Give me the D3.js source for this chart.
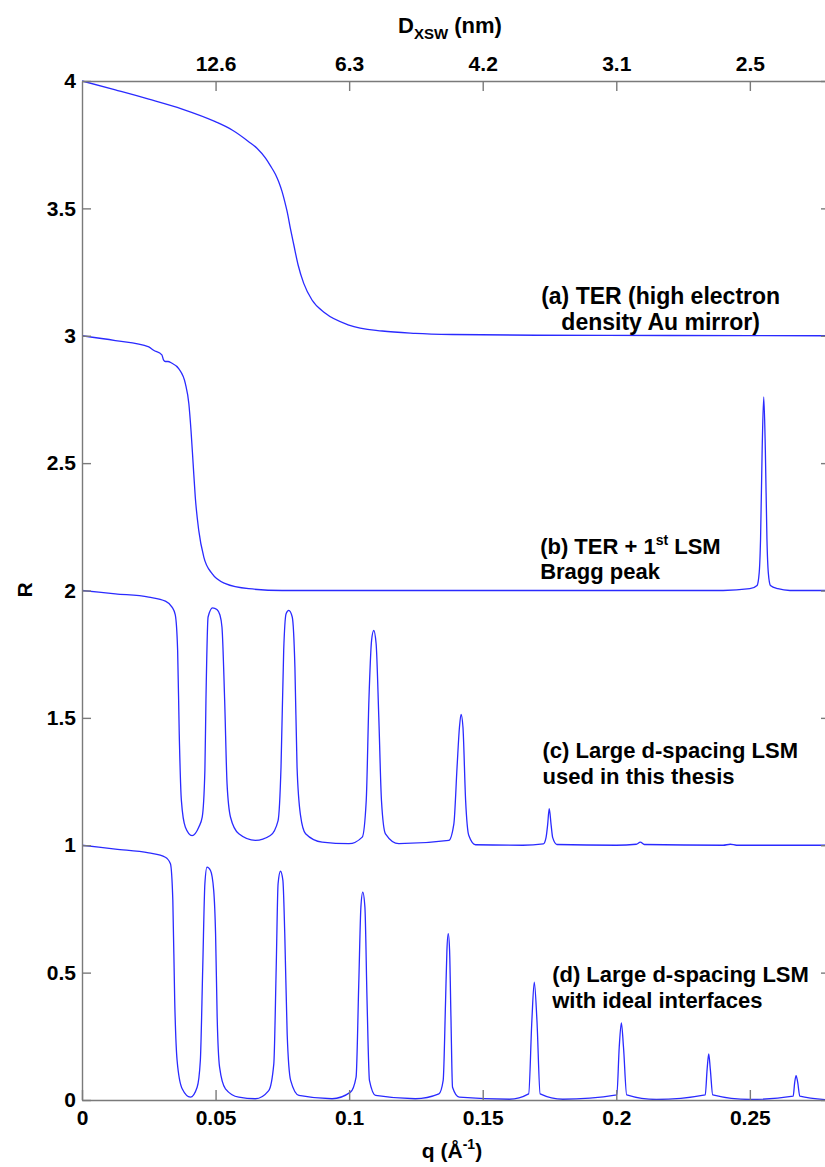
<!DOCTYPE html>
<html>
<head>
<meta charset="utf-8">
<script src="https://cdn.jsdelivr.net/npm/d3@7"></script>
<style>
  html, body { margin: 0; padding: 0; background: #fff; }
  svg { display: block; }
  text { font-family: "Liberation Sans", Arial, Helvetica, sans-serif; font-weight: bold; fill: #000; }
</style>
</head>
<body>
<svg id="chart" width="825" height="1167"></svg>
<script>
// Reflectivity curves R(q), each offset vertically by one unit
const curveA = [ // (a) TER, high electron density Au mirror (offset +3)
  [0,4.0],[0.0125,3.965],[0.025,3.929],[0.0375,3.89],[0.0499,3.8405],[0.0562,3.8077],
  [0.0624,3.7619],[0.0655,3.7358],[0.0687,3.6968],[0.0705,3.6677],[0.0724,3.6337],
  [0.0737,3.6023],[0.0749,3.5656],[0.0759,3.5264],[0.0768,3.4871],[0.078,3.4217],
  [0.0793,3.3562],[0.0809,3.2777],[0.083,3.2057],[0.0861,3.1403],[0.0911,3.0879],
  [0.0999,3.0421],[0.1124,3.0186],[0.1248,3.0094],[0.1386,3.005],[0.17,3.002],[0.22,3.001],[0.28,3.0]
];
const curveB = [ // (b) TER + 1st LSM Bragg peak (offset +2)
  [0,3.0],[0.0125,2.981],[0.025,2.956],[0.0268,2.943],[0.0299,2.925],[0.0305,2.905],
  [0.0312,2.899],[0.0322,2.899],[0.0335,2.893],[0.0362,2.871],[0.0387,2.812],[0.04,2.733],
  [0.0408,2.629],[0.0416,2.498],[0.0424,2.367],[0.0437,2.236],[0.0456,2.131],[0.0487,2.066],
  [0.0537,2.027],[0.0624,2.007],[0.0749,2.0],[0.15,2.0],[0.24,2.0],[0.25,2.007],
  [0.2527,2.02],[0.2535,2.07],[0.254,2.2],[0.2546,2.55],[0.2552,2.76],[0.2558,2.55],
  [0.2564,2.2],[0.2569,2.07],[0.2577,2.02],[0.2605,2.007],[0.265,2.0],[0.28,2.0]
];
const curveC = [ // (c) large d-spacing LSM (offset +1)
  [0,2.0],[0.0125,1.987],[0.025,1.974],[0.0312,1.958],[0.0337,1.935],[0.0349,1.905],
  [0.0358,1.765],[0.0364,1.438],[0.0372,1.176],[0.0387,1.071],[0.0412,1.038],[0.0437,1.071],
  [0.045,1.11],[0.046,1.294],[0.0464,1.569],[0.0472,1.896],[0.0489,1.932],[0.0505,1.925],
  [0.0516,1.905],[0.0524,1.856],[0.0534,1.569],[0.0543,1.241],[0.0556,1.11],[0.0587,1.045],
  [0.0649,1.019],[0.0705,1.038],[0.0734,1.097],[0.0745,1.307],[0.0755,1.765],[0.0764,1.909],
  [0.0774,1.922],[0.0787,1.896],[0.0797,1.699],[0.0805,1.307],[0.0818,1.117],[0.0837,1.045],
  [0.0899,1.012],[0.0999,1.006],[0.1049,1.032],[0.1064,1.176],[0.1074,1.569],[0.1084,1.804],
  [0.1092,1.843],[0.1101,1.791],[0.1111,1.503],[0.1121,1.176],[0.1136,1.045],[0.1186,1.006],
  [0.1373,1.019],[0.1392,1.084],[0.1404,1.307],[0.1413,1.464],[0.1419,1.514],[0.1426,1.464],
  [0.1436,1.176],[0.1448,1.038],[0.1473,1.002],[0.165,1.0],[0.1727,1.005],[0.1737,1.03],
  [0.1743,1.08],[0.1749,1.144],[0.1756,1.08],[0.1762,1.03],[0.1778,1.003],[0.2,1.0],
  [0.2075,1.004],[0.209,1.012],[0.2105,1.003],[0.24,1.0],[0.2427,1.004],[0.245,1.0],[0.28,1.0]
];
const curveD = [ // (d) large d-spacing LSM with ideal interfaces
  [0,1.0],[0.0125,0.985],[0.025,0.97],[0.0312,0.953],[0.0331,0.927],[0.034,0.783],
  [0.0347,0.391],[0.0356,0.155],[0.0375,0.044],[0.0406,0.011],[0.0431,0.05],[0.0443,0.155],
  [0.0452,0.521],[0.046,0.849],[0.0468,0.914],[0.0481,0.901],[0.0493,0.823],[0.05,0.653],
  [0.0506,0.325],[0.0515,0.129],[0.0537,0.044],[0.0587,0.011],[0.0649,0.005],[0.0699,0.037],
  [0.0718,0.142],[0.0727,0.521],[0.0734,0.849],[0.0743,0.898],[0.0752,0.862],[0.0759,0.653],
  [0.0768,0.26],[0.0781,0.077],[0.0812,0.018],[0.0936,0.005],[0.1005,0.031],[0.1026,0.09],
  [0.1036,0.456],[0.1044,0.757],[0.1051,0.816],[0.1059,0.757],[0.1067,0.391],[0.1076,0.077],
  [0.1099,0.018],[0.1248,0.005],[0.1336,0.024],[0.1352,0.077],[0.1361,0.391],[0.1366,0.587],
  [0.1371,0.653],[0.1376,0.587],[0.1381,0.33],[0.1387,0.05],[0.1412,0.011],[0.16,0.003],
  [0.1672,0.024],[0.1684,0.312],[0.1693,0.463],[0.1703,0.312],[0.1715,0.024],[0.18,0.003],
  [0.2002,0.02],[0.2011,0.207],[0.2019,0.303],[0.2027,0.207],[0.2039,0.02],[0.215,0.002],
  [0.2333,0.02],[0.234,0.12],[0.2346,0.181],[0.2352,0.12],[0.2361,0.02],[0.25,0.002],
  [0.2662,0.015],[0.2668,0.07],[0.2673,0.096],[0.2679,0.07],[0.2687,0.015],[0.28,0.0]
];
const curves = [curveA, curveB, curveC, curveD];

// Axis ticks and labels
const xTicks = [0, 0.05, 0.1, 0.15, 0.2, 0.25];
const xTickLabels = ["0", "0.05", "0.1", "0.15", "0.2", "0.25"];
const yTicks = [0, 0.5, 1, 1.5, 2, 2.5, 3, 3.5, 4];
const yTickLabels = ["0", "0.5", "1", "1.5", "2", "2.5", "3", "3.5", "4"];
const topTicks = [0.05, 0.1, 0.15, 0.2, 0.25];
const topTickLabels = ["12.6", "6.3", "4.2", "3.1", "2.5"]; // D_XSW = 2π/q, in nm

// Curve annotations: anchor (q, R) of the first line's baseline, alignment, lines
const annotations = [
  { q: 0.2166, r: 3.123, anchor: "middle", size: 23, lines: [["(a) TER (high electron"], ["density Au mirror)"]] },
  { q: 0.1715, r: 2.145, anchor: "start", size: 22, lines: [["(b) TER + 1", "st", " LSM"], ["Bragg peak"]] },
  { q: 0.1724, r: 1.342, anchor: "start", size: 22, lines: [["(c) Large d-spacing LSM"], ["used in this thesis"]] },
  { q: 0.176,  r: 0.463, anchor: "start", size: 22, lines: [["(d) Large d-spacing LSM"], ["with ideal interfaces"]] }
];

const svg = d3.select("#chart");
const mLeft = 82, mRight = 830, mTop = 81, mBottom = 1100;

const x = d3.scaleLinear().domain([0, 0.28]).range([mLeft, mRight]);
const y = d3.scaleLinear().domain([0, 4]).range([mBottom, mTop]);

svg.append("rect").attr("width", 825).attr("height", 1167).attr("fill", "#fff");

svg.append("defs").append("clipPath").attr("id", "plotClip")
  .append("rect").attr("x", mLeft).attr("y", mTop - 1)
  .attr("width", mRight - mLeft).attr("height", mBottom - mTop + 2);

// Curves
const line = d3.line().x(d => x(d[0])).y(d => y(d[1])).curve(d3.curveMonotoneX);
svg.append("g").attr("clip-path", "url(#plotClip)")
  .selectAll("path").data(curves).join("path")
  .attr("d", line)
  .attr("fill", "none")
  .attr("stroke", "#2a2aff")
  .attr("stroke-width", 1.3)
  .attr("stroke-linejoin", "round");

// Axes (ticks point inward)
const axisColor = "#7a7a7a";
const fontSize = 21;

function styleAxis(g) {
  g.select(".domain").attr("stroke", axisColor).attr("stroke-width", 1.4);
  g.selectAll(".tick line").attr("stroke", axisColor).attr("stroke-width", 1.4);
  g.selectAll(".tick text").attr("font-size", fontSize).attr("fill", "#000")
    .style("font-family", '"Liberation Sans", Arial, sans-serif').style("font-weight", "bold");
}

svg.append("g").attr("transform", `translate(0,${mBottom})`)
  .call(d3.axisBottom(x).tickValues(xTicks).tickFormat((d, i) => xTickLabels[i])
    .tickSizeInner(-10).tickSizeOuter(0).tickPadding(10))
  .call(styleAxis);

svg.append("g").attr("transform", `translate(0,${mTop})`)
  .call(d3.axisTop(x).tickValues(topTicks).tickFormat((d, i) => topTickLabels[i])
    .tickSizeInner(-10).tickSizeOuter(0).tickPadding(10))
  .call(styleAxis);

svg.append("g").attr("transform", `translate(${mLeft},0)`)
  .call(d3.axisLeft(y).tickValues(yTicks).tickFormat((d, i) => yTickLabels[i])
    .tickSizeInner(-9).tickSizeOuter(0).tickPadding(6))
  .call(styleAxis);

svg.append("g").attr("transform", `translate(${mRight},0)`)
  .call(d3.axisRight(y).tickValues(yTicks).tickFormat("")
    .tickSizeInner(-9).tickSizeOuter(0))
  .call(styleAxis);

// Axis titles
const xTitle = svg.append("text").attr("x", 452).attr("y", 1158)
  .attr("text-anchor", "middle").attr("font-size", 21);
xTitle.append("tspan").text("q (Å");
xTitle.append("tspan").attr("font-size", 14).attr("dy", -9).text("-1");
xTitle.append("tspan").attr("dy", 9).text(")");

const topTitle = svg.append("text").attr("x", 450).attr("y", 33)
  .attr("text-anchor", "middle").attr("font-size", 22);
topTitle.append("tspan").text("D");
topTitle.append("tspan").attr("font-size", 15).attr("dy", 6).text("XSW");
topTitle.append("tspan").attr("dy", -6).text(" (nm)");

svg.append("text").attr("transform", "translate(32,590) rotate(-90)")
  .attr("text-anchor", "middle").attr("font-size", 21).text("R");

// Annotations
annotations.forEach(a => {
  const t = svg.append("text").attr("font-size", a.size).attr("text-anchor", a.anchor);
  a.lines.forEach((parts, li) => {
    parts.forEach((p, pi) => {
      const sp = t.append("tspan").text(p);
      if (pi === 0) sp.attr("x", x(a.q)).attr("y", y(a.r) + li * 25.5);
      if (parts.length > 1 && pi === 1) sp.attr("font-size", 14).attr("dy", -9);
      if (parts.length > 1 && pi === 2) sp.attr("dy", 9);
    });
  });
});
</script>
</body>
</html>
